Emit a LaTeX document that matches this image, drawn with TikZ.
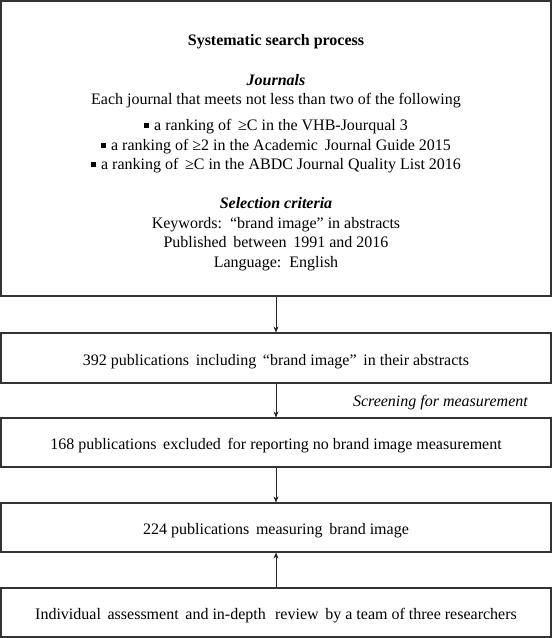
\documentclass[tikz,border=0pt]{standalone}
\usepackage{fontspec}
\setmainfont{Liberation Serif}
\usetikzlibrary{arrows.meta}
\newcommand{\sqbullet}{\raisebox{0.28ex}{\rule{0.28em}{0.28em}}\hspace{0.35em}}
\begin{document}
\begin{tikzpicture}[x=1pt,y=-1pt,
  box/.style={draw=black!80,line width=1.1pt,minimum width=550pt,inner sep=0pt},
  txt/.style={font=\fontsize{16}{18}\selectfont,inner sep=0pt,anchor=base},
  arr/.style={draw=black!85,line width=0.7pt,-{Stealth[length=6pt,width=5pt]}}]
\useasboundingbox (0,0) rectangle (553,638);
\node[box,minimum height=295pt] (b1) at (276,148.5) {};
\node[box,minimum height=50pt] (b2) at (276,358) {};
\node[box,minimum height=49pt] (b3) at (276,442.5) {};
\node[box,minimum height=49pt] (b4) at (276,527.5) {};
\node[box,minimum height=49pt] (b5) at (276,612.5) {};
\node[txt,font=\fontsize{16}{18}\selectfont\bfseries] (t1) at (276,45) {Systematic search process};
\node[txt,font=\fontsize{16}{18}\selectfont\bfseries\itshape] (t2) at (276,85) {Journals};
\node[txt] (t3) at (276,104) {Each journal that meets not less than two of the following};
\node[txt] (t4) at (276,130) {\sqbullet a ranking of \,≥C in the VHB-Jourqual 3};
\node[txt] (t5) at (276,150) {\sqbullet a ranking of ≥2 in the Academic\, Journal Guide 2015};
\node[txt] (t6) at (276,169) {\sqbullet a ranking of \,≥C in the ABDC Journal Quality List 2016};
\node[txt,font=\fontsize{16}{18}\selectfont\bfseries\itshape] (t7) at (276,208) {Selection criteria};
\node[txt] (t8) at (276,228) {Keywords:\, “brand image” in abstracts};
\node[txt] (t9) at (276,247) {Published\, between\, 1991 and 2016};
\node[txt] (t10) at (276,267) {Language:\, English};
\node[txt] (l2) at (276,365) {392 publications\, including\, “brand image”\, in their abstracts};
\node[txt] (l3) at (276,449) {168 publications\, excluded\, for reporting no brand image measurement};
\node[txt] (l4) at (276,534) {224 publications\, measuring\, brand image};
\node[txt] (l5) at (276,619) {Individual\, assessment\, and in-depth\,\, review\, by a team of three researchers};
\node[txt,anchor=base east,font=\fontsize{16}{18}\selectfont\itshape] (scr) at (528,406) {Screening for measurement};
\draw[arr] (b1.south) -- (b2.north);
\draw[arr] (b2.south) -- (b3.north);
\draw[arr] (b3.south) -- (b4.north);
\draw[arr] (b5.north) -- (b4.south);
\end{tikzpicture}
\end{document}
